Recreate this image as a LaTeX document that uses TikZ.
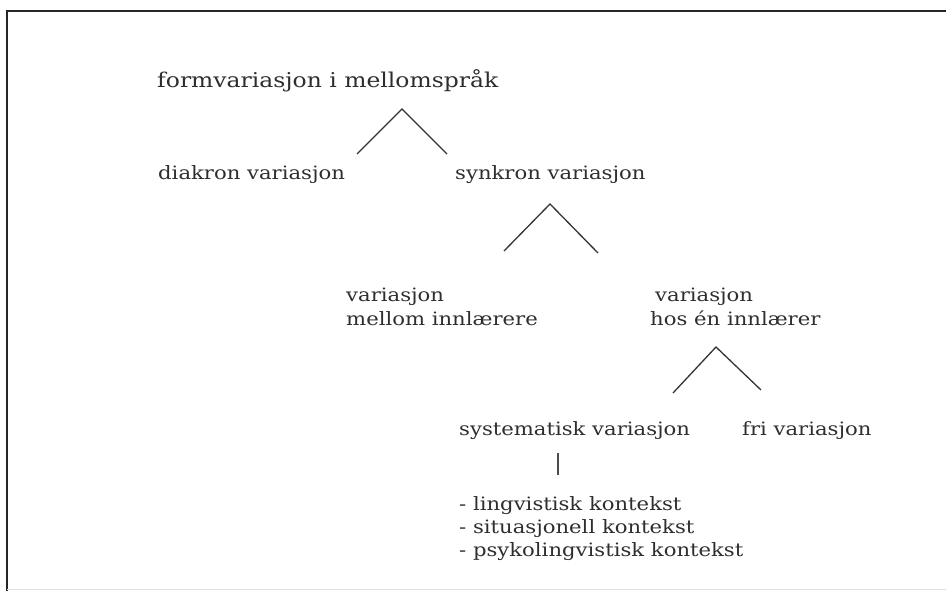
\documentclass[tikz,border=0pt]{standalone}
\usepackage{fontspec}
\setmainfont{DejaVu Serif}[FakeStretch=1.15]
\begin{document}
\begin{tikzpicture}[x=1pt,y=-1pt,
  lbl/.style={anchor=base west, inner sep=0pt, align=left, text=black!82,
    font=\fontsize{18.4}{22.8}\selectfont},
  twoline/.style={lbl, font=\fontsize{18.4}{24}\selectfont},
  big/.style={lbl, font=\fontsize{20.4}{24}\selectfont},
  edge/.style={line width=1.3pt, draw=black!80},
  frame/.style={line width=2.2pt, draw=black!85}]
\useasboundingbox (0,0) rectangle (946,591);
\coordinate (fTR) at (946,11);
\coordinate (fTL) at (7,11);
\coordinate (fBL) at (7,591);
\coordinate (bL) at (7,589);
\coordinate (bR) at (946,589);
\draw[frame] (fTR) -- (fTL) -- (fBL);
\draw[black!12, line width=1pt] (bL) -- (bR);

\node[big] (root) at (157,88) {formvariasjon i mellomspråk};
\node[lbl] (dia) at (158,180) {diakron variasjon};
\node[lbl] (syn) at (455,180) {synkron variasjon};
\node[twoline] (mel) at (346,325) {variasjon\\mellom innlærere};
\node[twoline] (hos) at (650,325) {\hspace*{5pt}variasjon\\hos én innlærer};
\node[lbl] (sys) at (459,435) {systematisk variasjon};
\node[lbl] (fri) at (742,435) {fri variasjon};
\node[lbl] (kon) at (459,556) {- lingvistisk kontekst\\- situasjonell kontekst\\- psykolingvistisk kontekst};

\coordinate (a1) at (402,109);
\coordinate (a1l) at (357,154);
\coordinate (a1r) at (447,154);
\draw[edge] (a1l) -- (a1) -- (a1r);

\coordinate (a2) at (550,204);
\coordinate (a2l) at (504,251);
\coordinate (a2r) at (598,253);
\draw[edge] (a2l) -- (a2) -- (a2r);

\coordinate (a3) at (716,347);
\coordinate (a3l) at (673,393);
\coordinate (a3r) at (761,390);
\draw[edge] (a3l) -- (a3) -- (a3r);

\coordinate (t1) at (558,453);
\coordinate (t2) at (558,475);
\draw[line width=1.2pt, draw=black!70] (t1) -- (t2);
\end{tikzpicture}
\end{document}
